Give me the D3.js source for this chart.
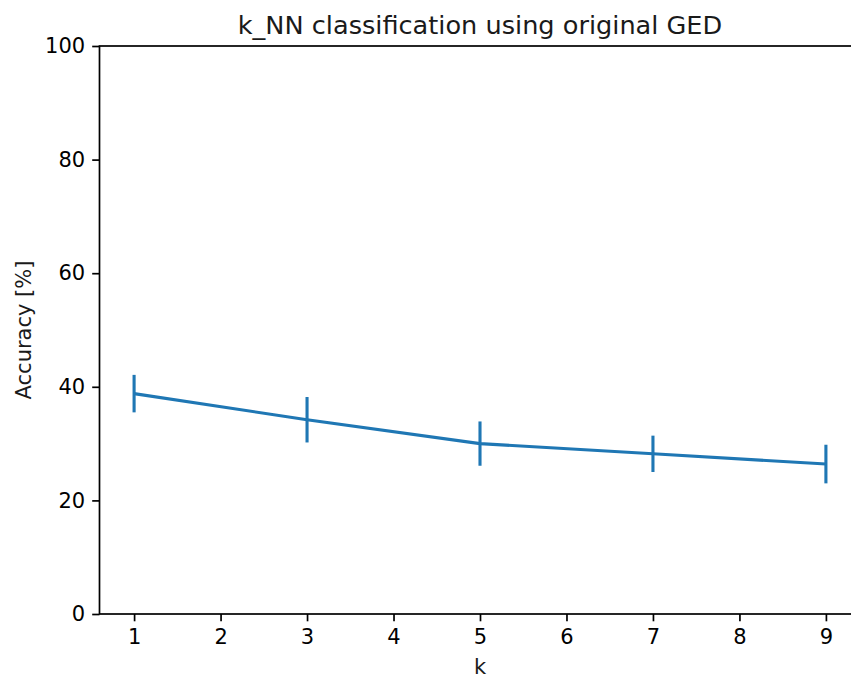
<!DOCTYPE html>
<html>
<head>
<meta charset="utf-8">
<script src="https://cdn.jsdelivr.net/npm/d3@7"></script>
<style>
  body { margin: 0; background: #fff; }
  text { font-family: "DejaVu Sans", sans-serif; fill: #000; }
</style>
</head>
<body>
<svg id="chart"></svg>
<script>
// data
var kValues = [1, 3, 5, 7, 9];
var accMean = [38.8, 34.2, 30.0, 28.2, 26.4];
var accErr = [3.3, 4.0, 3.9, 3.2, 3.4];
var xTicks = [1, 2, 3, 4, 5, 6, 7, 8, 9];
var yTicks = [0, 20, 40, 60, 80, 100];

// setup sizes
var svgWidth = 851,
    svgHeight = 678;
var margin = {top: 46, right: -9.5, bottom: 64, left: 99.5},
    width = svgWidth - margin.left - margin.right,
    height = svgHeight - margin.top - margin.bottom;
var blue = "#1f77b4";
var tickLen = 7.3;

var svg = d3.select("#chart")
    .attr("width", svgWidth)
    .attr("height", svgHeight);

var g = svg.append("g")
    .attr("transform", "translate(" + margin.left + "," + margin.top + ")");

// scales, matplotlib style 5% margins on x
var xScale = d3.scaleLinear()
    .domain([0.6, 9.4])
    .range([0, width]);

var yScale = d3.scaleLinear()
    .domain([0, 100])
    .range([height, 0]);

// axes
var xAxis = g.append("g")
    .attr("transform", "translate(0," + height + ")")
    .call(d3.axisBottom(xScale).tickValues(xTicks).tickSize(tickLen).tickPadding(7).tickFormat(d3.format("d")));

var yAxis = g.append("g")
    .call(d3.axisLeft(yScale).tickValues(yTicks).tickSize(tickLen).tickPadding(7).tickFormat(d3.format("d")));

[xAxis, yAxis].forEach(function(a) {
  a.select(".domain").remove();
  a.selectAll(".tick line").attr("stroke", "#000").attr("stroke-width", 1.7);
  a.selectAll(".tick text")
    .style("font-family", "DejaVu Sans")
    .style("font-size", "21px")
    .attr("fill", "#1a1a1a");
});
xAxis.selectAll(".tick text").attr("dy", "0.76em");

// frame (spines)
g.append("rect")
  .attr("x", 0)
  .attr("y", 0)
  .attr("width", width)
  .attr("height", height)
  .attr("fill", "none")
  .attr("stroke", "#000")
  .attr("stroke-width", 1.7);

// line
var line = d3.line()
  .x(function(d, i) { return xScale(kValues[i]); })
  .y(function(d) { return yScale(d); });

g.append("path")
  .datum(accMean)
  .attr("d", line)
  .attr("fill", "none")
  .attr("stroke", blue)
  .attr("stroke-width", 3.1);

// error bars
g.selectAll(".errbar")
  .data(accMean)
  .enter()
  .append("line")
  .attr("class", "errbar")
  .attr("x1", function(d, i) { return xScale(kValues[i]); })
  .attr("x2", function(d, i) { return xScale(kValues[i]); })
  .attr("y1", function(d, i) { return yScale(d + accErr[i]); })
  .attr("y2", function(d, i) { return yScale(d - accErr[i]); })
  .attr("stroke", blue)
  .attr("stroke-width", 3.1);

// title and labels
svg.append("text")
  .attr("x", margin.left + width / 2)
  .attr("y", 33.5)
  .attr("text-anchor", "middle")
  .style("font-size", "25.6px")
  .style("fill", "#1a1a1a")
  .text("k_NN classification using original GED");

svg.append("text")
  .attr("x", margin.left + width / 2)
  .attr("y", 674)
  .attr("text-anchor", "middle")
  .style("font-size", "21px")
  .style("fill", "#1a1a1a")
  .text("k");

svg.append("text")
  .attr("transform", "translate(31," + (margin.top + height / 2) + ") rotate(-90)")
  .attr("text-anchor", "middle")
  .style("font-size", "21px")
  .style("fill", "#1a1a1a")
  .text("Accuracy [%]");
</script>
</body>
</html>
